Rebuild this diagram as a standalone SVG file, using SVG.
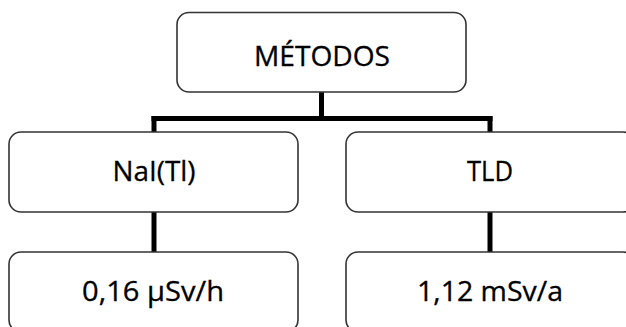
<svg xmlns="http://www.w3.org/2000/svg" width="626" height="327" viewBox="0 0 626 327">
<style>
.box{fill:#fff;stroke:#333;stroke-width:1.6}
.lbl{font-family:"Open Sans","Noto Sans","Liberation Sans",sans-serif;font-size:26.5px;fill:#000;stroke:#000;stroke-width:0.3;text-anchor:middle}
.conn{fill:none;stroke:#000;stroke-width:5;stroke-linecap:butt}
</style>
<rect width="626" height="327" fill="#fff"/>
<g id="connectors">
<line class="conn" x1="321.5" y1="92" x2="321.5" y2="118.5"/>
<line class="conn" x1="151.5" y1="118.5" x2="492.5" y2="118.5"/>
<line class="conn" x1="154" y1="116" x2="154" y2="132"/>
<line class="conn" x1="490" y1="116" x2="490" y2="132"/>
<line class="conn" x1="154" y1="212" x2="154" y2="252"/>
<line class="conn" x1="490" y1="212" x2="490" y2="252"/>
</g>
<g id="metodos">
<rect class="box" x="177" y="12.5" width="289" height="79.5" rx="12"/>
<text class="lbl" x="322" y="65.5" textLength="136" lengthAdjust="spacingAndGlyphs">MÉTODOS</text>
</g>
<g id="nai">
<rect class="box" x="9" y="132" width="289" height="80" rx="12"/>
<text class="lbl" x="154" y="180.5" textLength="83" lengthAdjust="spacingAndGlyphs">NaI(Tl)</text>
</g>
<g id="tld">
<rect class="box" x="346" y="132" width="289" height="80" rx="12"/>
<text class="lbl" x="490" y="180.5" textLength="46" lengthAdjust="spacingAndGlyphs">TLD</text>
</g>
<g id="nai-val">
<rect class="box" x="9" y="252" width="289" height="80" rx="12"/>
<text class="lbl" x="153" y="300.5" textLength="142" lengthAdjust="spacingAndGlyphs">0,16 µSv/h</text>
</g>
<g id="tld-val">
<rect class="box" x="346" y="252" width="289" height="80" rx="12"/>
<text class="lbl" x="490" y="300.5" textLength="146" lengthAdjust="spacingAndGlyphs">1,12 mSv/a</text>
</g>
</svg>
